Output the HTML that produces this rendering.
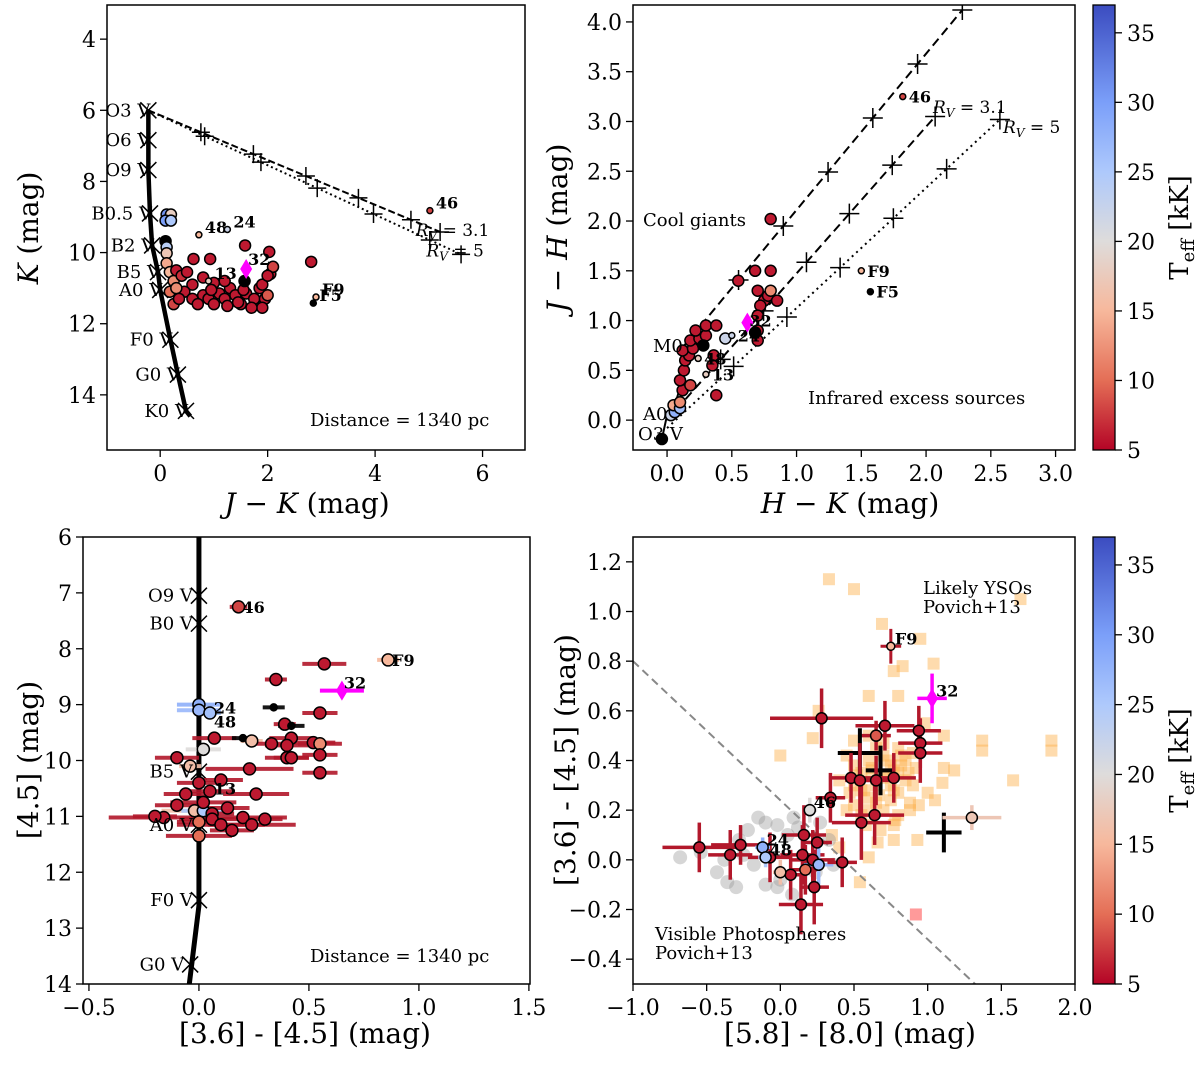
<!DOCTYPE html>
<html><head><meta charset="utf-8"><style>
html,body{margin:0;padding:0;background:#fff}
svg text{font-family:"DejaVu Serif","Liberation Serif",serif}
</style></head><body>
<svg id="fig" width="1200" height="1061" xmlns="http://www.w3.org/2000/svg"></svg>
<script>
// ---------- DATA ----------
// Panel 1: J-K vs K
const p1SeqTypes=["O3 V","O6 V","O9 V","B0.5 V","B2 V","B5 V","A0 V","F0 V","G0 V","K0 V"];
const p1SeqJK=[-0.22,-0.22,-0.22,-0.19,-0.15,-0.04,0.0,0.19,0.33,0.48];
const p1SeqK=[6.0,6.84,7.68,8.9,9.8,10.55,11.05,12.45,13.43,14.45];
const p1JK=[0.12,0.2,0.1,0.2,0.1,0.12,0.12,0.12,0.18,0.25,0.18,0.25,0.62,0.93,1.58,2.03,2.81,0.3,0.4,0.5,0.6,0.45,0.3,0.6,0.8,0.9,1.0,1.1,1.2,1.3,1.4,1.5,1.6,1.75,1.85,1.95,2.0,2.05,2.1,1.9,1.0,1.2,0.7,0.8,1.45,1.9,2.0,1.25,0.35,0.95,1.7,1.55,1.57];
const p1K=[8.93,8.93,9.1,9.1,9.68,9.85,10.02,10.3,10.55,10.8,11.1,11.45,10.18,10.18,9.8,9.98,10.26,10.5,10.65,10.55,10.9,11.1,11.0,11.3,11.2,11.3,11.45,11.15,11.3,11.0,11.2,11.45,11.15,11.3,11.0,11.3,11.2,10.6,10.4,10.9,10.85,10.8,11.45,10.7,11.4,11.55,10.65,11.5,11.3,11.05,11.55,11.05,10.8];
const p1T=[31,18,30,25,0,24,17,14,15,12,10,8,6,6,6,6,6,6,7,6,6,6,12,6,6,6,6,6,6,6,6,6,6,6,6,6,9,6,8,6,6,6,6,6,6,6,6,6,6,6,6,6,0];
const p1Lab=["46","48","24","F9","F5","13"];
const p1LabX=[5.02,0.72,1.25,2.9,2.85,0.9];
const p1LabY=[8.82,9.5,9.35,11.25,11.42,10.8];
const p1LabT=[8,15,22,15,0,18];
const p1Mag=[1.6,10.46];
const p1Rv31=[5.21,9.42];
const p1Rv5=[5.6,10.05];
// Panel 2: H-K vs J-H
const p2SeqHK=[-0.04,0.0,0.06,0.14,0.23,0.33];
const p2SeqJH=[-0.19,0.05,0.15,0.5,0.8,0.95];
const p2HK=[-0.04,0.03,0.06,0.05,0.1,0.1,0.12,0.1,0.18,0.13,0.14,0.17,0.12,0.2,0.18,0.25,0.3,0.22,0.3,0.38,0.36,0.35,0.38,0.7,0.7,0.75,0.78,0.8,0.72,0.85,0.7,0.55,0.68,0.8,0.7,0.8,0.28,0.45,0.68];
const p2JH=[-0.19,0.05,0.08,0.15,0.12,0.18,0.3,0.4,0.35,0.5,0.6,0.65,0.7,0.72,0.8,0.82,0.85,0.9,0.95,0.95,0.65,0.55,0.25,0.9,0.8,1.2,1.25,1.3,1.15,1.2,1.05,1.4,1.5,1.5,1.3,2.02,0.75,0.82,0.88];
const p2T=[0,22,28,14,26,12,6,6,8,6,6,6,6,6,6,6,6,6,6,6,6,6,6,6,6,6,6,12,6,6,6,6,6,6,6,6,0,22,0];
const p2Lab=["46","F9","F5","24","48","13"];
const p2LabX=[1.82,1.5,1.57,0.5,0.24,0.3];
const p2LabY=[3.25,1.5,1.29,0.85,0.62,0.46];
const p2LabT=[8,15,0,22,18,18];
const p2Mag=[0.62,0.98];
const p2Upper=[[0.12,0.73],[2.28,4.12]];
const p2Mid=[[0.0,0.0],[2.07,3.05]];
const p2Dot=[[0.0,-0.08],[2.57,3.02]];
// Panel 3: [3.6]-[4.5] vs [4.5]
const p3SeqTypes=["O9 V","B0 V","B5 V","A0 V","F0 V","G0 V"];
const p3SeqC=[0.0,0.0,0.0,0.0,0.0,-0.04];
const p3SeqM=[7.05,7.55,10.2,11.15,12.5,13.65];
const p3C=[0.35,0.57,0.86,0.55,0.34,0.39,0.42,0.0,0.0,0.05,0.07,0.2,0.24,0.33,0.42,0.4,0.52,0.55,0.4,0.42,0.55,0.55,0.02,-0.1,-0.04,0.23,0.0,0.1,0.05,-0.06,0.26,-0.1,-0.02,0.02,0.06,0.0,-0.16,0.2,0.06,0.1,0.24,0.15,0.3,0.0,-0.2,0.02,0.13,0.18];
const p3M=[8.55,8.27,8.2,9.15,9.05,9.35,9.38,9.0,9.1,9.15,9.6,9.6,9.65,9.7,9.6,9.73,9.68,9.7,9.95,9.95,9.9,10.22,9.8,9.95,10.1,10.15,10.4,10.35,10.55,10.6,10.6,10.8,10.9,10.9,10.95,11.1,11.02,11.02,11.05,11.15,11.15,11.25,11.05,11.35,11.0,10.75,10.85,7.25];
const p3T=[6,6,15,6,0,6,0,28,27,26,6,0,16,6,6,6,6,12,6,6,6,6,20,6,16,6,6,6,6,6,6,6,16,25,6,10,6,6,6,6,6,6,6,10,6,6,6,8];
const p3Err=[0.05,0.1,0.05,0.08,0.05,0.05,0.06,0.1,0.1,0.05,0.1,0.05,0.05,0.1,0.1,0.1,0.1,0.1,0.1,0.08,0.08,0.08,0.08,0.1,0.05,0.2,0.1,0.1,0.1,0.1,0.15,0.1,0.15,0.1,0.1,0.1,0.25,0.2,0.15,0.2,0.2,0.1,0.08,0.15,0.1,0.15,0.1,0.04];
const p3Lab=["46","F9","24","48","13"];
const p3LabX=[0.18,0.86,0.05,0.05,0.05];
const p3LabY=[7.25,8.2,9.05,9.3,10.5];
const p3Mag=[0.65,8.75];
// Panel 4: [5.8]-[8.0] vs [3.6]-[4.5]
const p4X=[0.28,0.71,0.65,0.94,0.95,0.95,0.54,0.68,0.48,0.54,0.65,0.77,0.34,0.64,0.55,1.11,1.30,0.20,-0.55,-0.34,-0.27,-0.07,0.16,0.25,0.15,0.22,0.17,0.26,0.42,0.07,0.0,0.23,0.14,-0.12,-0.10];
const p4Y=[0.57,0.54,0.50,0.52,0.47,0.43,0.43,0.36,0.33,0.32,0.32,0.33,0.25,0.18,0.15,0.11,0.17,0.20,0.05,0.02,0.06,0.01,0.10,0.07,0.02,0.0,-0.04,-0.02,-0.01,-0.06,-0.05,-0.11,-0.18,0.05,0.01];
const p4T=[6,6,9,6,6,6,0,0,6,6,6,6,6,6,6,0,17,20,6,6,6,6,6,6,6,6,10,27,6,6,16,6,6,28,25];
const p4XErr=[0.35,0.2,0.1,0.15,0.15,0.15,0.15,0.1,0.15,0.1,0.15,0.15,0.1,0.2,0.2,0.12,0.2,0.05,0.25,0.15,0.2,0.15,0.15,0.1,0.15,0.15,0.1,0.1,0.1,0.1,0.05,0.1,0.15,0.05,0.05];
const p4YErr=[0.12,0.1,0.06,0.1,0.1,0.12,0.1,0.1,0.1,0.15,0.1,0.1,0.1,0.12,0.15,0.08,0.05,0.05,0.1,0.1,0.08,0.1,0.12,0.1,0.12,0.12,0.1,0.08,0.1,0.1,0.05,0.15,0.12,0.04,0.04];
const p4Lab=["F9","32","46","24","48"];
const p4LabX=[0.75,1.03,0.2,-0.12,-0.1];
const p4LabY=[0.86,0.65,0.2,0.05,0.01];
const p4Mag=[1.03,0.65];
const p4F9=[0.75,0.86];
const p4YsoX=[0.33,0.5,0.69,0.95,0.77,0.83,1.04,0.6,0.8,0.26,0.22,0.0,1.37,1.37,1.58,1.18,1.11,1.10,1.11,0.6,0.54,0.66,0.77,0.93,0.77,0.88,0.94,0.77,1.63,1.84,1.84,0.45,0.5,0.55,0.6,0.65,0.7,0.75,0.8,0.85,0.9,0.5,0.55,0.6,0.65,0.7,0.75,0.8,0.85,0.45,0.5,0.55,0.6,0.65,0.7,0.75,0.8,0.4,0.5,0.6,0.7,0.8,0.9,0.62,0.72,0.82,0.58,0.68,0.78,0.88,1.0,1.05,0.35,0.4,0.98,0.52,0.62,0.72,0.82,0.57,0.67,0.77,0.87,0.47,0.92];
const p4YsoY=[1.13,1.09,0.95,0.89,0.76,0.78,0.79,0.66,0.66,0.6,0.49,0.42,0.48,0.44,0.32,0.36,0.37,0.31,0.5,0.01,-0.09,0.07,0.08,0.08,0.14,0.23,0.22,0.28,1.05,0.48,0.44,0.42,0.38,0.35,0.4,0.45,0.42,0.38,0.35,0.4,0.43,0.3,0.28,0.25,0.3,0.33,0.3,0.27,0.32,0.2,0.22,0.18,0.2,0.23,0.2,0.24,0.18,0.32,0.48,0.5,0.47,0.45,0.3,0.36,0.4,0.42,0.14,0.12,0.16,0.2,0.27,0.24,0.1,0.05,0.55,0.34,0.37,0.34,0.38,0.28,0.26,0.36,0.35,0.27,0.37];
const p4VisX=[-0.68,-0.43,-0.36,-0.3,-0.22,-0.15,-0.1,-0.02,0.09,0.12,0.27,0.33,0.36,-0.1,-0.02,-0.18,-0.25,-0.38,0.24,0.08,-0.28,-0.54,0.0,0.05];
const p4VisY=[0.01,-0.05,-0.09,-0.11,0.12,0.17,0.15,0.14,0.17,0.13,0.15,0.08,-0.02,-0.1,-0.11,-0.02,0.02,0.0,-0.05,-0.14,0.08,0.03,-0.08,0.1];
const p4Pink=[0.92,-0.22];

// ---------- HELPERS ----------
const svg=document.getElementById('fig');
const NS='http://www.w3.org/2000/svg';
function mk(tag,attrs,parent){const e=document.createElementNS(NS,tag);for(const k in attrs)e.setAttribute(k,attrs[k]);(parent||svg).appendChild(e);return e;}
function lin(d0,d1,r0,r1){return v=>r0+(v-d0)*(r1-r0)/(d1-d0);}
const stops=[[5,[180,4,38]],[10,[228,110,86]],[15,[247,184,156]],[20,[222,220,219]],[25,[174,201,252]],[30,[123,159,249]],[37,[59,76,192]]];
function cmap(t){if(t<=0)return '#000';t=Math.max(5,Math.min(37,t));for(let i=0;i<stops.length-1;i++){const a=stops[i],b=stops[i+1];if(t<=b[0]){const f=(t-a[0])/(b[0]-a[0]);const c=a[1].map((v,j)=>Math.round(v+(b[1][j]-v)*f));return 'rgb('+c.join(',')+')';}}return '#3b4cc0';}
function text(str,x,y,opt,parent){const e=mk('text',Object.assign({x:x,y:y,'font-size':20,fill:'#000'},opt||{}),parent);e.textContent=str;return e;}

function axes(name,box,xd,yd,xt,yt,xfmt,yfmt){
  const g=mk('g',{});
  
  
  const sx=lin(xd[0],xd[1],box[0],box[2]);const sy=lin(yd[0],yd[1],box[1],box[3]);
  const clipId=name+'-clip';
  const cp=mk('clipPath',{id:clipId},g);mk('rect',{x:box[0],y:box[1],width:box[2]-box[0],height:box[3]-box[1]},cp);
  const plot=mk('g',{'clip-path':'url(#'+clipId+')'},g);
  
  
  const frame=mk('rect',{x:box[0],y:box[1],width:box[2]-box[0],height:box[3]-box[1],fill:'none',stroke:'#000','stroke-width':1.5},g);
  
  
  xt.forEach(v=>{const x=sx(v);mk('line',{x1:x,x2:x,y1:box[3],y2:box[3]+7,stroke:'#000','stroke-width':1.3},g);
    const t=text(xfmt(v),x,box[3]+31,{'text-anchor':'middle','font-size':22},g);
    
    });
  yt.forEach(v=>{const y=sy(v);mk('line',{x1:box[0]-7,x2:box[0],y1:y,y2:y,stroke:'#000','stroke-width':1.3},g);
    const t=text(yfmt(v),box[0]-11,y+8,{'text-anchor':'end','font-size':22},g);
    
    });
  return {sx,sy,g,plot};
}
function dot(ax,x,y,t,r,parent){const c=mk('circle',{cx:ax.sx(x),cy:ax.sy(y),r:r||6,fill:cmap(t),stroke:'#000','stroke-width':1.5},parent||ax.plot);
  
  return c;}
function lab(ax,s,x,y,dx,dy){const t=text(s,ax.sx(x)+(dx||6),ax.sy(y)+(dy||-2),{'font-size':16,'font-weight':'bold'},ax.plot);
  
  return t;}
function diamond(ax,x,y,parent){const X=ax.sx(x),Y=ax.sy(y);const p=mk('polygon',{points:`${X},${Y-10} ${X+6},${Y} ${X},${Y+10} ${X-6},${Y}`,fill:'#ff00ff'},parent||ax.plot);
  
  return p;}
function xmark(ax,x,y){const X=ax.sx(x),Y=ax.sy(y);mk('path',{d:`M${X-8},${Y-8}L${X+8},${Y+8}M${X-8},${Y+8}L${X+8},${Y-8}`,stroke:'#000','stroke-width':1.5},ax.plot);}
function plus(ax,x,y,s,w){const X=ax.sx(x),Y=ax.sy(y);s=s||10;mk('path',{d:`M${X-s},${Y}L${X+s},${Y}M${X},${Y-s}L${X},${Y+s}`,stroke:'#000','stroke-width':w||1.5},ax.plot);}
function colorbar(name,y0,y1){
  const g=mk('g',{});
  
  
  const id=name+'-grad';const lg=mk('linearGradient',{id:id,x1:0,y1:1,x2:0,y2:0},g);
  stops.forEach(s=>mk('stop',{offset:((s[0]-5)/32),'stop-color':cmap(s[0])},lg));
  mk('rect',{x:1093,y:y0,width:22,height:y1-y0,fill:'url(#'+id+')',stroke:'#000','stroke-width':1.3},g);
  const sc=lin(5,37,y1,y0);
  [5,10,15,20,25,30,35].forEach(v=>{const y=sc(v);mk('line',{x1:1115,x2:1122,y1:y,y2:y,stroke:'#000','stroke-width':1.3},g);text(String(v),1127,y+8,{'font-size':22},g);});
  const t=text('',1188,(y0+y1)/2,{'font-size':26,'text-anchor':'middle',transform:`rotate(-90 1188 ${(y0+y1)/2})`},g);
  t.innerHTML='T<tspan font-size="18" dy="6">eff</tspan><tspan dy="-6"> [kK]</tspan>';
  
  
}
function ylabel(s,x,y){const t=text('',x,y,{'font-size':28,'text-anchor':'middle',transform:`rotate(-90 ${x} ${y})`});t.innerHTML=s;
  
  }
function xlabel(s,x,y){const t=text('',x,y,{'font-size':28,'text-anchor':'middle'});t.innerHTML=s;
  
  }
const f0=v=>String(v).replace('-','−');
const f1=v=>v.toFixed(1).replace('-','−');

// ---------- PANEL 1 ----------
const a1=axes('panel-jk-k',[107,5,525,450],[-0.99,6.79],[3.04,15.55],[0,2,4,6],[4,6,8,10,12,14],f0,f0);
mk('polyline',{points:p1SeqJK.map((v,i)=>a1.sx(v)+','+a1.sy(p1SeqK[i])).join(' ')+' '+a1.sx(0.56)+','+a1.sy(14.6),fill:'none',stroke:'#000','stroke-width':4.5},a1.plot);
p1SeqJK.forEach((v,i)=>{xmark(a1,v,p1SeqK[i]);const t=text(p1SeqTypes[i],a1.sx(v)+2,a1.sy(p1SeqK[i])+6,{'font-size':18,'text-anchor':'end'},a1.g);
  
  });
mk('line',{x1:a1.sx(p1SeqJK[0]),y1:a1.sy(p1SeqK[0]),x2:a1.sx(p1Rv31[0]),y2:a1.sy(p1Rv31[1]),stroke:'#000','stroke-width':2,'stroke-dasharray':'7,3'},a1.plot);
mk('line',{x1:a1.sx(p1SeqJK[0]),y1:a1.sy(p1SeqK[0]),x2:a1.sx(p1Rv5[0]),y2:a1.sy(p1Rv5[1]),stroke:'#000','stroke-width':2,'stroke-dasharray':'2,3'},a1.plot);
[0.18,0.36,0.54,0.72,0.9,1].forEach(f=>{plus(a1,p1SeqJK[0]+(p1Rv31[0]-p1SeqJK[0])*f,p1SeqK[0]+(p1Rv31[1]-p1SeqK[0])*f,9);plus(a1,p1SeqJK[0]+(p1Rv5[0]-p1SeqJK[0])*f,p1SeqK[0]+(p1Rv5[1]-p1SeqK[0])*f,9);});
text('',a1.sx(5.5)-40,a1.sy(9.42)+4,{'font-size':17,'font-style':'italic'},a1.plot).innerHTML='R<tspan font-size="12" dy="4">V</tspan><tspan dy="-4" font-style="normal"> = 3.1</tspan>';
text('',a1.sx(5.7)-40,a1.sy(10.05)+2,{'font-size':17,'font-style':'italic'},a1.plot).innerHTML='R<tspan font-size="12" dy="4">V</tspan><tspan dy="-4" font-style="normal"> = 5</tspan>';
p1JK.forEach((v,i)=>dot(a1,v,p1K[i],p1T[i],5.5));
p1Lab.forEach((s,i)=>{dot(a1,p1LabX[i],p1LabY[i],p1LabT[i],3);lab(a1,s,p1LabX[i],p1LabY[i]);});
diamond(a1,p1Mag[0],p1Mag[1]);lab(a1,'32',p1Mag[0],p1Mag[1],2,-4);
text('Distance = 1340 pc',310,426,{'font-size':18},a1.g);
ylabel('<tspan font-style="italic">K</tspan> (mag)',38,228);
xlabel('<tspan font-style="italic">J</tspan> − <tspan font-style="italic">K</tspan> (mag)',307,513);

// ---------- PANEL 2 ----------
const a2=axes('panel-hk-jh',[633,5,1075,450],[-0.263,3.15],[4.17,-0.30],[0,0.5,1,1.5,2,2.5,3],[0,0.5,1,1.5,2,2.5,3,3.5,4],f1,f1);
mk('polyline',{points:p2SeqHK.map((v,i)=>a2.sx(v)+','+a2.sy(p2SeqJH[i])).join(' '),fill:'none',stroke:'#000','stroke-width':2},a2.plot);
[[p2Upper,'9,5'],[p2Mid,'9,5'],[p2Dot,'2,4']].forEach(([L,d])=>{mk('line',{x1:a2.sx(L[0][0]),y1:a2.sy(L[0][1]),x2:a2.sx(L[1][0]),y2:a2.sy(L[1][1]),stroke:'#000','stroke-width':2,'stroke-dasharray':d},a2.plot);
  [0.2,0.36,0.52,0.68,0.84,1].forEach(f=>plus(a2,L[0][0]+(L[1][0]-L[0][0])*f,L[0][1]+(L[1][1]-L[0][1])*f,10));});
p2HK.forEach((v,i)=>dot(a2,v,p2JH[i],p2T[i],5.5));
p2Lab.forEach((s,i)=>{dot(a2,p2LabX[i],p2LabY[i],p2LabT[i],3);lab(a2,s,p2LabX[i],p2LabY[i],6,6);});
diamond(a2,p2Mag[0],p2Mag[1]);lab(a2,'32',p2Mag[0],p2Mag[1],2,4);
text('Cool giants',643,226,{'font-size':18},a2.g);
text('Infrared excess sources',808,404,{'font-size':18},a2.g);
text('M0',653,352,{'font-size':18},a2.g);text('A0',643,420,{'font-size':18},a2.g);text('O3 V',638,440,{'font-size':18},a2.g);
text('',933,113,{'font-size':17,'font-style':'italic'},a2.g).innerHTML='R<tspan font-size="12" dy="4">V</tspan><tspan dy="-4" font-style="normal"> = 3.1</tspan>';
text('',1003,133,{'font-size':17,'font-style':'italic'},a2.g).innerHTML='R<tspan font-size="12" dy="4">V</tspan><tspan dy="-4" font-style="normal"> = 5</tspan>';
ylabel('<tspan font-style="italic">J</tspan> − <tspan font-style="italic">H</tspan> (mag)',567,228);
xlabel('<tspan font-style="italic">H</tspan> − <tspan font-style="italic">K</tspan> (mag)',850,513);
colorbar('colorbar-top',5,450);

// ---------- PANEL 3 ----------
const a3=axes('panel-irac-cmd',[83,537,530,984],[-0.527,1.505],[6,14],[-0.5,0,0.5,1,1.5],[6,7,8,9,10,11,12,13,14],f1,f0);
mk('polyline',{points:[a3.sx(0)+','+a3.sy(5),a3.sx(0)+','+a3.sy(12.6),a3.sx(-0.05)+','+a3.sy(14.2)].join(' '),fill:'none',stroke:'#000','stroke-width':5},a3.plot);
p3SeqTypes.forEach((s,i)=>{xmark(a3,p3SeqC[i],p3SeqM[i]);const t=text(s,a3.sx(p3SeqC[i])-6,a3.sy(p3SeqM[i])+6,{'font-size':18,'text-anchor':'end'},a3.g);
  
  });
p3C.forEach((v,i)=>{const c=p3T[i]>0?(p3T[i]>12?cmap(p3T[i]):'#b2182b'):'#000';mk('line',{x1:a3.sx(v-p3Err[i]),x2:a3.sx(v+p3Err[i]),y1:a3.sy(p3M[i]),y2:a3.sy(p3M[i]),stroke:c,'stroke-width':4,opacity:0.9},a3.plot);});
p3C.forEach((v,i)=>dot(a3,v,p3M[i],p3T[i],p3T[i]===0?3.5:6));
p3Lab.forEach((s,i)=>lab(a3,s,p3LabX[i],p3LabY[i],4,6));
mk('line',{x1:a3.sx(p3Mag[0]-0.1),x2:a3.sx(p3Mag[0]+0.1),y1:a3.sy(p3Mag[1]),y2:a3.sy(p3Mag[1]),stroke:'#ff00ff','stroke-width':4},a3.plot);
diamond(a3,p3Mag[0],p3Mag[1]);lab(a3,'32',p3Mag[0],p3Mag[1],2,-2);
text('Distance = 1340 pc',310,962,{'font-size':18},a3.g);
ylabel('[4.5] (mag)',38,760);
xlabel('[3.6] - [4.5] (mag)',305,1043);

// ---------- PANEL 4 ----------
const a4=axes('panel-irac-ccd',[633,537,1075,984],[-1,2],[1.3,-0.5],[-1,-0.5,0,0.5,1,1.5,2],[-0.4,-0.2,0,0.2,0.4,0.6,0.8,1.0,1.2],f1,f1);
p4YsoX.forEach((v,i)=>{const r=mk('rect',{x:a4.sx(v)-6,y:a4.sy(p4YsoY[i])-6,width:12,height:12,fill:'#fdb04a',opacity:0.45},a4.plot);
  
  });
p4VisX.forEach((v,i)=>{const c=mk('circle',{cx:a4.sx(v),cy:a4.sy(p4VisY[i]),r:7,fill:'#999',opacity:0.4},a4.plot);
  
  });
const pk=mk('rect',{x:a4.sx(p4Pink[0])-6,y:a4.sy(p4Pink[1])-6,width:12,height:12,fill:'#ff9a9a'},a4.plot);


const dl=mk('line',{x1:a4.sx(-1),y1:a4.sy(0.8),x2:a4.sx(1.45),y2:a4.sy(0.8-0.56*2.45),stroke:'#888','stroke-width':2,'stroke-dasharray':'8,5'},a4.plot);


p4X.forEach((v,i)=>{const c=p4T[i]===0?'#000':(p4T[i]>12?cmap(p4T[i]):'#b2182b');const w=p4T[i]===0?4:3.5;
  mk('line',{x1:a4.sx(v-p4XErr[i]),x2:a4.sx(v+p4XErr[i]),y1:a4.sy(p4Y[i]),y2:a4.sy(p4Y[i]),stroke:c,'stroke-width':w},a4.plot);
  mk('line',{x1:a4.sx(v),x2:a4.sx(v),y1:a4.sy(p4Y[i]-p4YErr[i]),y2:a4.sy(p4Y[i]+p4YErr[i]),stroke:c,'stroke-width':w},a4.plot);});
p4X.forEach((v,i)=>{if(p4T[i]>0)dot(a4,v,p4Y[i],p4T[i],5.5);});
mk('line',{x1:a4.sx(p4F9[0]-0.07),x2:a4.sx(p4F9[0]+0.07),y1:a4.sy(p4F9[1]),y2:a4.sy(p4F9[1]),stroke:'#b2182b','stroke-width':3},a4.plot);
mk('line',{x1:a4.sx(p4F9[0]),x2:a4.sx(p4F9[0]),y1:a4.sy(p4F9[1]-0.07),y2:a4.sy(p4F9[1]+0.07),stroke:'#b2182b','stroke-width':3},a4.plot);
dot(a4,p4F9[0],p4F9[1],15,4);
mk('line',{x1:a4.sx(p4Mag[0]-0.1),x2:a4.sx(p4Mag[0]+0.1),y1:a4.sy(p4Mag[1]),y2:a4.sy(p4Mag[1]),stroke:'#ff00ff','stroke-width':3.5},a4.plot);
mk('line',{x1:a4.sx(p4Mag[0]),x2:a4.sx(p4Mag[0]),y1:a4.sy(p4Mag[1]-0.1),y2:a4.sy(p4Mag[1]+0.1),stroke:'#ff00ff','stroke-width':3.5},a4.plot);
diamond(a4,p4Mag[0],p4Mag[1]);
p4Lab.forEach((s,i)=>lab(a4,s,p4LabX[i],p4LabY[i],4,-2));
text('Likely YSOs',923,594,{'font-size':18},a4.g);text('Povich+13',923,613,{'font-size':18},a4.g);
text('Visible Photospheres',655,940,{'font-size':18},a4.g);text('Povich+13',655,959,{'font-size':18},a4.g);
ylabel('[3.6] - [4.5] (mag)',575,760);
xlabel('[5.8] - [8.0] (mag)',850,1043);
colorbar('colorbar-bottom',537,984);
</script>
</body></html>
